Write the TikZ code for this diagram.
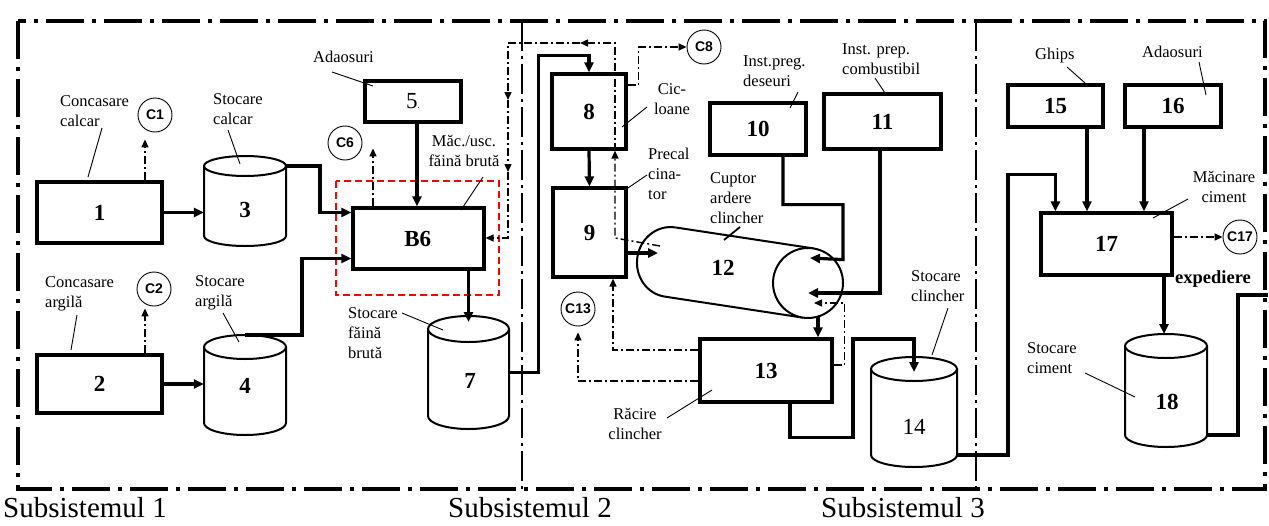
\documentclass[tikz,border=0pt]{standalone}
\usepackage{fontspec}
\setmainfont{Liberation Serif}
\newfontfamily\cfont{Liberation Sans}
\usetikzlibrary{arrows.meta}
\newcommand\silo[6]{% name, cx, ytop, ybottom, rx, ry
  \fill[white] ({#2-#5},#3) -- ({#2-#5},#4) arc[start angle=180,end angle=360,x radius=#5pt,y radius=#6pt] -- ({#2+#5},#3) -- cycle;
  \draw[cylline] ({#2-#5},#3) -- ({#2-#5},#4) arc[start angle=180,end angle=360,x radius=#5pt,y radius=#6pt] -- ({#2+#5},#3);
  \draw[cylline,fill=white] (#2,#3) ellipse[x radius=#5pt,y radius=#6pt];
  \path (#2,{(#3+#4)/2}) node[inner sep=0pt,minimum width={2*#5pt},minimum height={(#4-#3)*1pt}] (#1) {};
  \coordinate (#1-top) at (#2,{#3-#6});
  \coordinate (#1-tc) at (#2,#3);
  \coordinate (#1-tr) at ({#2+#5},#3);
  \coordinate (#1-br) at ({#2+#5},#4);
}
\begin{document}
\begin{tikzpicture}[x=1pt,y=-1pt,
 boxst/.style={draw,line width=3.2pt,inner sep=0pt,fill=white,font=\fontsize{23}{26}\selectfont\bfseries},
 flowar/.style={line width=3.2pt,-{Triangle[length=10pt,width=9pt]}},
 flowln/.style={line width=3.2pt},
 gasar/.style={line width=1.4pt,dash pattern=on 8pt off 3pt on 2pt off 3pt,-{Triangle[length=8pt,width=7pt]}},
 cylline/.style={line width=2pt},
 lbl/.style={font=\fontsize{16.5}{20}\selectfont,inner sep=0pt,align=left,anchor=north west},
 leadln/.style={line width=0.9pt},
 cnode/.style={draw,circle,line width=0.9pt,fill=white,minimum size=34pt,inner sep=0pt,font=\cfont\fontsize{14}{14}\selectfont\bfseries},
 numst/.style={font=\fontsize{23}{26}\selectfont\bfseries,inner sep=0pt},
 frame/.style={line width=3.5pt,dash pattern=on 38pt off 8pt on 4pt off 8pt},
 divline/.style={line width=2pt,dash pattern=on 30pt off 5pt on 3pt off 5pt},
 subst/.style={font=\fontsize{29}{32}\selectfont,inner sep=0pt,anchor=base west}
]
\useasboundingbox (0,0) rectangle (1269,525);

% frame and dividers
\draw[frame] (18,21) rectangle (1265,489);
\draw[divline] (522,21) -- (522,489);
\draw[divline] (976,21) -- (976,489);
\node[subst] (sub1) at (3,517) {Subsistemul 1};
\node[subst] (sub2) at (448,517) {Subsistemul 2};
\node[subst] (sub3) at (821,517) {Subsistemul 3};

% red dashed group
\draw[red,line width=1.6pt,dash pattern=on 7pt off 4pt] (336,181) rectangle (499,295);

% boxes
\node[boxst,minimum width=125pt,minimum height=61pt] (b1) at (99.5,212.5) {1};
\node[boxst,minimum width=125pt,minimum height=58pt] (b2) at (99.5,384) {2};
\node[boxst,minimum width=96pt,minimum height=41pt] (b5) at (413,101.5) {\mdseries 5{\fontsize{9}{9}\selectfont.}};
\node[boxst,minimum width=131pt,minimum height=61pt] (b6) at (418.5,238.5) {B6{\fontsize{6}{6}\selectfont\mdseries .}};
\node[boxst,minimum width=74pt,minimum height=75pt] (b8) at (589,111.5) {8};
\node[boxst,minimum width=73pt,minimum height=89pt] (b9) at (589.5,232.5) {9};
\node[boxst,minimum width=96pt,minimum height=52pt] (b10) at (758,129) {10};
\node[boxst,minimum width=117pt,minimum height=55pt] (b11) at (882.5,121.5) {11};
\node[boxst,minimum width=132pt,minimum height=63pt] (b13) at (766,370.5) {13};
\node[boxst,minimum width=95pt,minimum height=42pt] (b15) at (1055.5,106) {15};
\node[boxst,minimum width=96pt,minimum height=42pt] (b16) at (1173,106) {16};
\node[boxst,minimum width=131pt,minimum height=62pt] (b17) at (1106.5,244) {17};

% silos
\silo{s3}{245}{166}{236}{41}{10}
\silo{s4}{245}{347}{423}{41}{12}
\silo{s7}{468.5}{329}{416}{40.5}{13}
\silo{s14}{914}{369}{455}{43}{12}
\silo{s18}{1166}{346}{435}{41}{12}
\node[numst] (n3) at (245,210) {3};
\node[numst] (n4) at (245,386) {4};
\node[numst] (n7) at (470,381) {7};
\node[numst,font=\fontsize{23}{26}\selectfont] (n14) at (914,427) {14};
\node[numst] (n18) at (1167,402) {18};

% kiln
\begin{scope}[shift={(670,262)},rotate=-8.65]
 \fill[white] (0,-35) -- (139.6,-35) -- (139.6,35) -- (0,35) arc[start angle=270,end angle=90,x radius=33pt,y radius=35pt];
 \draw[cylline] (0,-35) -- (139.6,-35) (0,35) -- (139.6,35);
 \draw[cylline] (0,-35) arc[start angle=90,end angle=270,x radius=33pt,y radius=35pt];
 \draw[cylline,fill=white] (139.6,0) circle[radius=35pt];
\end{scope}
\node[numst] (n12) at (723,268) {12};
\coordinate (kIn) at (658,253);
\coordinate (kA) at (810,258);
\coordinate (kB) at (808,293);
\coordinate (kC) at (814,303);
\coordinate (kOut) at (818,317);
\coordinate (kG) at (660,246);
\coordinate (exp) at (1268,295);

% emission circles
\node[cnode] (cc1) at (155,115) {C1};
\node[cnode] (cc2) at (154,289) {C2};
\node[cnode] (cc6) at (345,143) {C6};
\node[cnode] (cc8) at (704,47) {C8};
\node[cnode] (cc13) at (578,309) {C13};
\node[cnode] (cc17) at (1240,237) {C17};

% material flows
\draw[flowar] (b1.east) -- (s3.west |- b1.east);
\draw[flowar] (b2.east) -- (s4.west |- b2.east);
\draw[flowar] (s3-tr) -- ++(34,0) |- ([yshift=26pt]b6.west);
\draw[flowar] (s4-top) -- ++(57,0) |- ([yshift=-20pt]b6.west);
\draw[flowar] ([xshift=4pt]b5.south) -- ([xshift=4pt]b5.south |- b6.north);
\draw[flowar] (b6.south -| s7-tc) -- ([yshift=7pt]s7-tc);
\draw[flowar] (s7.east) -- ++(29,0) |- ([yshift=17pt]b8.north) -- (b8.north);
\draw[flowar] (b8.south) -- (b9.north);
\draw[flowar] ([yshift=-20.5pt]b9.east) -- (kIn);
\draw[flowar] ([xshift=25pt]b10.south) -- ++(0,48) -- ++(60,0) -- ++(0,55) -- (kA);
\draw[flowar] ([xshift=-2.5pt]b11.south) |- (kB);
\draw[flowar] (kOut) -- (kOut |- b13.north);
\draw[flowar] ([xshift=24pt]b13.south) -- ++(0,34) -- ++(63,0) |- ([yshift=30pt]s14-tc) -- ([yshift=-3pt]s14-tc);
\draw[flowar] (s14-br) -- ++(51,0) |- ([xshift=16pt,yshift=37pt]b17.north west) -- ([xshift=16pt]b17.north west);
\draw[flowar] ([xshift=31.5pt]b15.south) -- ([xshift=31.5pt]b15.south |- b17.north);
\draw[flowar] ([xshift=-29pt]b16.south) -- ([xshift=-29pt]b16.south |- b17.north);
\draw[flowar] ([xshift=57.5pt]b17.south) -- ([xshift=57.5pt]b17.south |- s18-top);
\draw[flowln] (s18-br) -- ++(31,0) |- (exp);

% gas flows
\coordinate (g1) at (615,238);
\coordinate (g2) at (615,43);
\coordinate (g3) at (508,43);
\coordinate (g4) at (508,238);
\draw[gasar] ([xshift=45.5pt]b1.north) -- ++(0,-41);
\draw[gasar] ([xshift=45.5pt]b2.north) -- ++(0,-45);
\draw[gasar] ([xshift=-45.5pt]b6.north) -- ++(0,-58);
\draw[gasar] (kG) -- (g1) -- (g1 |- b8.south);
\draw[gasar] (g1 |- b8.south) -- (g2) -- ([xshift=-35pt]g2);
\draw[gasar] ([xshift=-35pt]g2) -- (g3) -- ([yshift=-57pt]g3);
\draw[gasar] ([yshift=-57pt]g3) -- ([yshift=-129pt]g3);
\draw[gasar] ([yshift=-129pt]g3) -- (g4) -- (g4 -| b6.east);
\draw[gasar] ([yshift=20.5pt]b13.west) -| ([xshift=23.5pt]b9.south);
\draw[gasar] ([yshift=-10.5pt]b13.west) -| ([yshift=-6pt]cc13.south);
\draw[gasar] ([yshift=5.5pt]b13.east) -- ++(11,0) |- (kC);
\draw[gasar] ([yshift=26.5pt]b8.east) -- ++(11,0) |- (cc8.west);
\draw[gasar] ([yshift=7pt]b17.east) -- (cc17.west);

% labels
\node[lbl] (l1) at (60,95.5) {Concasare\\calcar};
\node[lbl] (l3) at (213,93.5) {Stocare\\calcar};
\node[lbl] (l2) at (45,276.5) {Concasare\\argilă};
\node[lbl] (l4) at (195,275.5) {Stocare\\argilă};
\node[lbl] (l5) at (313,50.5) {Adaosuri};
\node[lbl,align=center,anchor=north] (l6) at (464,135.5) {Măc./usc.\\făină brută};
\node[lbl] (l7) at (348,307.5) {Stocare\\făină\\brută};
\node[lbl,align=center,anchor=north] (l8) at (672,83.5) {Cic-\\loane};
\node[lbl] (l9) at (648,147.5) {Precal\\cina-\\tor};
\node[lbl] (l12) at (710,172.5) {Cuptor\\ardere\\clincher};
\node[lbl] (l10) at (743,55.5) {Inst.preg.\\deseuri};
\node[lbl] (l11) at (842,43.5) {Inst. prep.\\combustibil};
\node[lbl,align=center,anchor=north] (l13) at (635,408.5) {Răcire\\clincher};
\node[lbl] (l14) at (911,270.5) {Stocare\\clincher};
\node[lbl] (l15) at (1035,47.5) {Ghips};
\node[lbl] (l16) at (1142,45.5) {Adaosuri};
\node[lbl,align=center,anchor=north] (l17) at (1224,171.5) {Măcinare\\ciment};
\node[lbl] (l18) at (1027,342.5) {Stocare\\ciment};
\node[font=\fontsize{18.5}{20}\selectfont\bfseries,inner sep=0pt,anchor=base west] (lexp) at (1175,283) {expediere};

% leader lines
\draw[leadln] (102,128) -- (88,177);
\draw[leadln] (228,130) -- (240,164);
\draw[leadln] (77,315) -- (71,350);
\draw[leadln] (223,313) -- (239,342);
\draw[leadln] (332,72) -- (373,86);
\draw[leadln] (483,177) -- (461,210);
\draw[leadln] (402,313) -- (443,330);
\draw[leadln] (647,107) -- (622,127);
\draw[leadln] (647,175) -- (625,190);
\draw[line width=1.8pt] (740,227) -- (724,240);
\draw[leadln] (798,92) -- (790,108);
\draw[leadln] (875,78) -- (885,93);
\draw[leadln] (667,418) -- (712,390);
\draw[leadln] (948,308) -- (932,355);
\draw[leadln] (1067,67) -- (1085,83);
\draw[leadln] (1199,62) -- (1206,95);
\draw[leadln] (1188,199) -- (1153,218);
\draw[leadln] (1085,373) -- (1135,397);
\end{tikzpicture}
\end{document}
